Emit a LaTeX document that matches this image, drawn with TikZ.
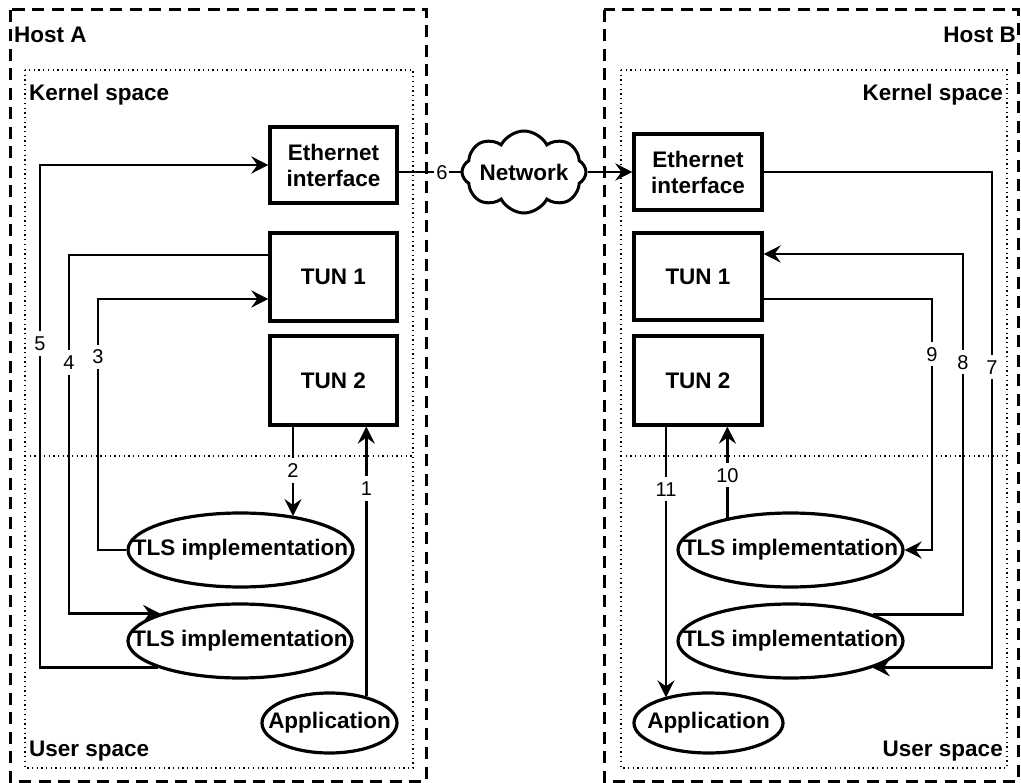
\documentclass[tikz,border=0pt]{standalone}
\usepackage{fontspec}
\setmainfont{Liberation Sans}
\usetikzlibrary{arrows.meta,shapes.geometric,shapes.symbols,calc}
\begin{document}
\begin{tikzpicture}[x=1pt,y=-1pt,
  big/.style={font=\fontsize{22.5}{26}\selectfont\bfseries},
  box/.style={draw, line width=3.2pt, fill=white, big, align=center, inner sep=0pt},
  ell/.style={ellipse, draw, line width=3.2pt, fill=white, big, inner sep=0pt},
  host/.style={draw, line width=3pt, dash pattern=on 12pt off 7.5pt},
  space/.style={draw, line width=1.3pt, dash pattern=on 1.3pt off 3.4pt},
  title/.style={big, inner sep=0pt},
  con/.style={line width=2.8pt},
  arr/.style={line width=2.8pt, -{Stealth[length=17pt,width=17pt,inset=6pt]}},
  lbl/.style={fill=white, font=\fontsize{20}{21}\selectfont, inner xsep=2pt, inner ysep=5pt, text height=14.3pt, text depth=0pt}
]
\useasboundingbox (0,0) rectangle (1021,783);

% hosts
\draw[host] (10,10) rectangle (426,781);
\draw[host] (604,10) rectangle (1018,781);
% spaces
\draw[space] (25,70) rectangle (413,768);
\draw[space] (25,456) -- (413,456);
\draw[space] (621,70) rectangle (1007,768);
\draw[space] (621,456) -- (1007,456);

% titles
\node[title, anchor=west] (hA) at (14,35) {Host A};
\node[title, anchor=east] (hB) at (1016,35) {Host B};
\node[title, anchor=west] (kA) at (29,95) {Kernel space};
\node[title, anchor=east] (kB) at (1003,95) {Kernel space};
\node[title, anchor=west] (uA) at (29,751) {User space};
\node[title, anchor=east] (uB) at (1003,751) {User space};

% host A nodes
\node[box, minimum width=127pt, minimum height=76pt] (ethA) at (333.5,165) {Ethernet\\interface};
\node[box, minimum width=127pt, minimum height=88pt] (tunA1) at (333.5,277) {TUN 1};
\node[box, minimum width=127pt, minimum height=89pt] (tunA2) at (333.5,380.5) {TUN 2};
\node[ell, minimum width=225pt, minimum height=74pt] (tlsA1) at (240.5,550) {\makebox[0pt]{TLS implementation}};
\node[ell, minimum width=224pt, minimum height=74pt] (tlsA2) at (240,641) {\makebox[0pt]{TLS implementation}};
\node[ell, minimum width=135pt, minimum height=60pt] (appA) at (329.5,723) {\makebox[0pt]{Application}};

% network
\node[cloud, draw, line width=3pt, fill=white, big, cloud puffs=8, cloud puff arc=125, cloud ignores aspect, minimum width=124pt, minimum height=82pt, inner sep=0pt] (net) at (524,172) {\makebox[0pt]{Network}};

% host B nodes
\node[box, minimum width=128pt, minimum height=76pt] (ethB) at (698,172) {Ethernet\\interface};
\node[box, minimum width=128pt, minimum height=87pt] (tunB1) at (698,276.5) {TUN 1};
\node[box, minimum width=128pt, minimum height=89pt] (tunB2) at (698,380.5) {TUN 2};
\node[ell, minimum width=225pt, minimum height=74pt] (tlsB1) at (790.5,550) {\makebox[0pt]{TLS implementation}};
\node[ell, minimum width=225pt, minimum height=74pt] (tlsB2) at (790.5,641) {\makebox[0pt]{TLS implementation}};
\node[ell, minimum width=149pt, minimum height=60pt] (appB) at (708.5,723) {\makebox[0pt]{Application}};

% helper coordinates
\coordinate (a2) at ([xshift=-40.5pt]tunA2.south);
\coordinate (t1a) at ([yshift=-22pt]tunA1.west);
\coordinate (t1b) at ([yshift=22pt]tunA1.west);
\coordinate (e6) at ([yshift=-7pt]ethA.east);
\coordinate (t1c) at ([yshift=22.5pt]tunB1.east);
\coordinate (t1d) at ([yshift=-22.5pt]tunB1.east);
\coordinate (t2b) at ([xshift=-32pt]tunB2.south);

% host A connectors
\draw[arr] (appA.36) -- node[lbl,pos=0.77]{1} (appA.36 |- tunA2.south);
\draw[arr] (a2) -- node[lbl,pos=0.49]{2} (a2 |- tlsA1.32);
\draw[arr] (tlsA1.west) -- (98,0 |- tlsA1.west) -- node[lbl,pos=0.77]{3} (98,0 |- t1a) -- (t1a);
\draw[arr] (t1b) -- (69,0 |- t1b) -- node[lbl,pos=0.30]{4} (69,0 |- tlsA2.161) -- (tlsA2.161);
\draw[arr] (tlsA2.198) -- (40,0 |- tlsA2.198) -- node[lbl,pos=0.645]{5} (40,0 |- ethA.west) -- (ethA.west);

% network connectors
\draw[con] (e6) -- node[lbl,pos=0.7]{6} (net.west);
\draw[arr] (net.east) -- (ethB.west);

% host B connectors
\draw[arr] (ethB.east) -- (992,0 |- ethB.east) -- node[lbl,pos=0.394]{7} (992,0 |- tlsB2.342) -- (tlsB2.342);
\draw[arr] (tlsB2.18) -- (963,0 |- tlsB2.18) -- node[lbl,pos=0.70]{8} (963,0 |- t1c) -- (t1c);
\draw[arr] (t1d) -- (932,0 |- t1d) -- node[lbl,pos=0.22]{9} (932,0 |- tlsB1.east) -- (tlsB1.east);
\draw[arr] (tlsB1.153) -- node[lbl,pos=0.47]{10} (tlsB1.153 |- tunB2.south);
\draw[arr] (t2b) -- node[lbl,pos=0.23]{11} (t2b |- appB.150);
\end{tikzpicture}
\end{document}
